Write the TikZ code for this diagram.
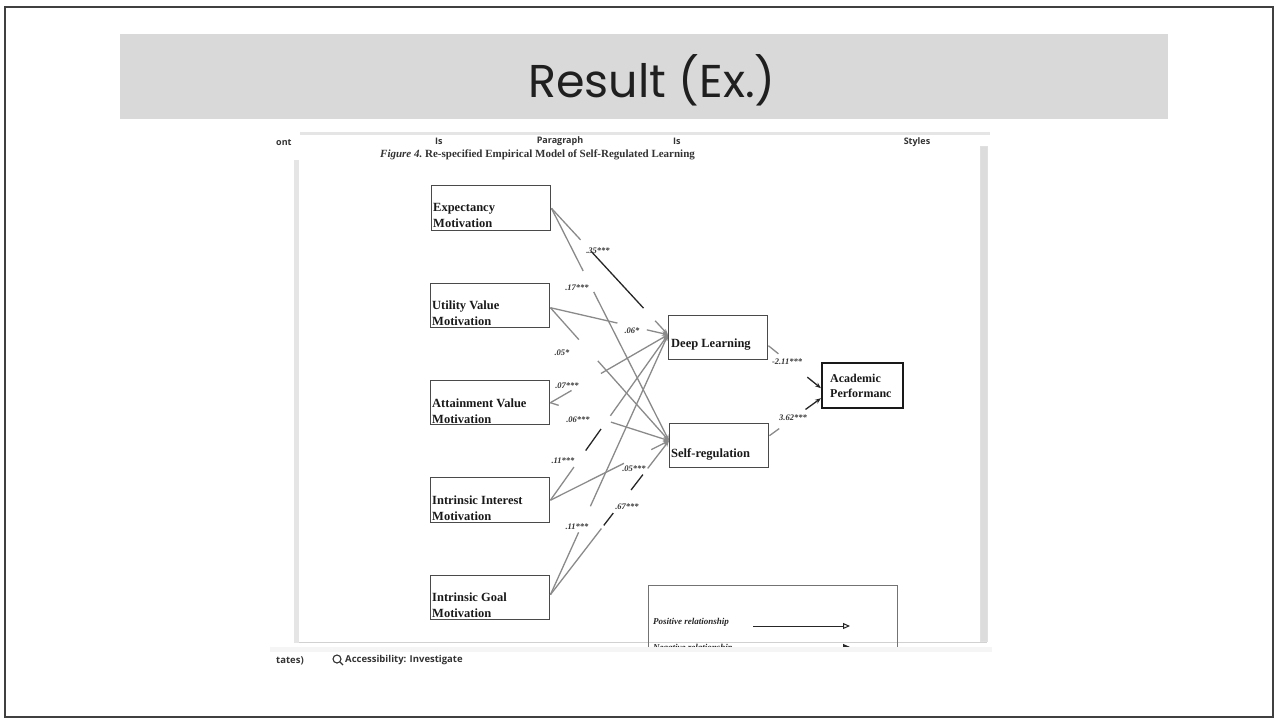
\documentclass[tikz,border=0pt]{standalone}
\usepackage{fontspec}
\setmainfont{Liberation Serif}
\newfontfamily\titlefont{Poppins}
\newfontfamily\uifont{Open Sans}
\usetikzlibrary{calc,arrows.meta}
\definecolor{linec}{HTML}{8A8A8A}
\definecolor{boxc}{HTML}{4A4A4A}
\definecolor{banner}{HTML}{D9D9D9}
\definecolor{barc}{HTML}{DCDCDC}
\newcommand\pathseg[5]{\draw[#5] ($(#1)!#3!(#2)$) -- ($(#1)!#4!(#2)$);}
\begin{document}
\begin{tikzpicture}[x=1pt,y=-1pt,
  vbox/.style={draw=boxc, line width=1.4pt, inner sep=0pt, anchor=north west},
  btxt/.style={font=\fontsize{12.5}{16}\selectfont\bfseries, align=left, inner sep=0pt, anchor=north west, text=black!90},
  lab/.style={font=\fontsize{8.5}{9}\selectfont\bfseries\itshape, inner sep=0.5pt, text=black!80},
  gl/.style={draw=linec, line width=1.3pt},
  bl/.style={draw=black!85, line width=1.3pt},
  tip/.style={-{Stealth[length=6pt,width=4.5pt]}},
  ui/.style={font=\uifont\bfseries\fontsize{9}{10}\selectfont, text=black!80, inner sep=0pt}
]
\useasboundingbox (0,0) rectangle (1276,721);
% slide
\draw[black!75, line width=2pt] (5,7) rectangle (1273,717);
\fill[banner] (120,34) rectangle (1168,119);
\node[font=\titlefont\fontsize{46}{50}\selectfont, text=black!88] (title) at (652,80) {Result (Ex.)};

% word window chrome
\draw[black!10, line width=3pt] (300,133) -- (990,133);
\node[ui, anchor=west] (r1) at (276,143) {ont};
\node[ui, anchor=west] (r2) at (435,141) {Is};
\node[ui] (r3) at (560,141) {Paragraph};
\node[ui, anchor=west] (r4) at (673,141) {Is};
\node[ui] (r5) at (917,142) {Styles};
\fill[barc] (980,146) rectangle (987,641);
\draw[black!12] (980,146) rectangle (987,641);
\fill[black!10] (294,160) rectangle (299,643);
\draw[black!18, line width=1pt] (299,642) -- (987,642);
\fill[black!4] (270,647) rectangle (992,652);

% caption (top clipped)
\begin{scope}
\clip (300,149) rectangle (980,160);
\node[font=\fontsize{11}{12}\selectfont\bfseries, text=black!80, anchor=base west, inner sep=0pt] (cap) at (380,157) {\itshape Figure 4.\upshape\ Re-specified Empirical Model of Self-Regulated Learning};
\end{scope}

% boxes
\node[vbox, minimum width=119pt, minimum height=45pt] (E) at (431,185) {};
\node[vbox, minimum width=119pt, minimum height=44pt] (U) at (430,283) {};
\node[vbox, minimum width=119pt, minimum height=44pt] (A) at (430,380) {};
\node[vbox, minimum width=119pt, minimum height=45pt] (I) at (430,477) {};
\node[vbox, minimum width=119pt, minimum height=44pt] (G) at (430,575) {};
\node[vbox, minimum width=99pt, minimum height=44pt] (D) at (668,315) {};
\node[vbox, minimum width=99pt, minimum height=44pt] (S) at (669,423) {};
\node[vbox, draw=black!90, line width=2.4pt, minimum width=81pt, minimum height=45pt] (AP) at (821,362) {};

\node[btxt] (Et) at ($(E.south west)+(2,-28)$) {Expectancy\\Motivation};
\node[btxt] (Ut) at ($(U.south west)+(2,-28)$) {Utility Value\\Motivation};
\node[btxt] (At) at ($(A.south west)+(2,-27)$) {Attainment Value\\Motivation};
\node[btxt] (It) at ($(I.south west)+(2,-28)$) {Intrinsic Interest\\Motivation};
\node[btxt] (Gt) at ($(G.south west)+(2,-28)$) {Intrinsic Goal\\Motivation};
\node[btxt, anchor=base west] (Dt) at ($(D.south west)+(3,-13)$) {Deep Learning};
\node[btxt, anchor=base west] (St) at ($(S.south west)+(2,-11)$) {Self-regulation};
\node[btxt, font=\fontsize{12}{15}\selectfont\bfseries] (APt) at ($(AP.south west)+(9,-35)$) {Academic\\Performanc};

% endpoints
\coordinate (Din) at ($(D.west)+(0,-3)$);
\coordinate (Sin) at ($(S.west)+(0,-5)$);
\coordinate (Eo) at (E.east);
\coordinate (Uo) at ($(U.east)+(0,2)$);
\coordinate (Ao) at (A.east);
\coordinate (Io) at (I.east);
\coordinate (Go) at ($(G.east)+(0,-3)$);

% E -> D (.35***)
\pathseg{Eo}{Din}{0}{0.25}{gl}
\pathseg{Eo}{Din}{0.34}{0.79}{bl}
\pathseg{Eo}{Din}{0.89}{1}{gl,tip}
% E -> S (.17***)
\pathseg{Eo}{Sin}{0}{0.27}{gl}
\pathseg{Eo}{Sin}{0.36}{1}{gl,tip}
% U -> D (.06*)
\pathseg{Uo}{Din}{0}{0.57}{gl}
\pathseg{Uo}{Din}{0.82}{1}{gl,tip}
% U -> S (.05*)
\pathseg{Uo}{Sin}{0}{0.24}{gl}
\pathseg{Uo}{Sin}{0.40}{1}{gl,tip}
% A -> D (.07***)
\pathseg{Ao}{Din}{0}{0.18}{gl}
\pathseg{Ao}{Din}{0.43}{1}{gl,tip}
% A -> S (.06***)
\pathseg{Ao}{Sin}{0}{0.07}{gl}
\pathseg{Ao}{Sin}{0.51}{1}{gl,tip}
% I -> D (.11***)
\pathseg{Io}{Din}{0}{0.2}{gl}
\pathseg{Io}{Din}{0.3}{0.43}{bl}
\pathseg{Io}{Din}{0.51}{1}{gl,tip}
% I -> S (.05***)
\pathseg{Io}{Sin}{0}{0.62}{gl}
\pathseg{Io}{Sin}{0.85}{1}{gl,tip}
% G -> D (.11***)
\pathseg{Go}{Din}{0}{0.24}{gl}
\pathseg{Go}{Din}{0.34}{1}{gl,tip}
% G -> S (.67***)
\pathseg{Go}{Sin}{0}{0.43}{gl}
\pathseg{Go}{Sin}{0.45}{0.53}{bl}
\pathseg{Go}{Sin}{0.68}{0.78}{bl}
\pathseg{Go}{Sin}{0.82}{1}{gl,tip}

% right side
\coordinate (Do) at ($(D.east)+(0,8)$);
\coordinate (So) at ($(S.east)+(0,-10)$);
\coordinate (APa) at ($(AP.west)+(0,2.5)$);
\coordinate (APb) at ($(AP.west)+(0,12.5)$);
\pathseg{Do}{APa}{0}{0.19}{gl}
\pathseg{Do}{APa}{0.74}{1}{bl,tip}
\pathseg{So}{APb}{0}{0.19}{gl}
\pathseg{So}{APb}{0.7}{1}{bl,tip}

% labels
\node[lab] (l1) at (598,251) {.35***};
\node[lab] (l2) at (577,288) {.17***};
\node[lab] (l3) at (632,331) {.06*};
\node[lab] (l4) at (562,353) {.05*};
\node[lab] (l5) at (567,386) {.07***};
\node[lab] (l6) at (578,420) {.06***};
\node[lab] (l7) at (563,461) {.11***};
\node[lab] (l8) at (634,469) {.05***};
\node[lab] (l9) at (577,527) {.11***};
\node[lab] (l10) at (627,507) {.67***};
\node[lab] (l11) at (787,362) {-2.11***};
\node[lab] (l12) at (793,418) {3.62***};

% legend (bottom clipped by status bar)
\begin{scope}
\clip (640,580) rectangle (905,646);
\node[draw=black!55, line width=1.2pt, minimum width=249pt, minimum height=80pt, anchor=north west, inner sep=0pt] (leg) at (648,585) {};
\node[font=\fontsize{9}{10}\selectfont\bfseries\itshape, anchor=west, inner sep=0pt, text=black!85] (pos) at (653,622) {Positive relationship};
\coordinate (pa) at (753,626);
\coordinate (pb) at (850,626);
\draw[black!85, line width=1pt, -{Triangle[open,length=7pt,width=6pt]}] (pa) -- (pb);
\node[font=\fontsize{9}{10}\selectfont\bfseries\itshape, anchor=west, inner sep=0pt, text=black!85] (neg) at (653,648) {Negative relationship};
\coordinate (na) at (830,647);
\coordinate (nb) at (850,647);
\draw[black!85, line width=1pt, -{Triangle[length=7pt,width=6pt]}] (na) -- (nb);
\end{scope}

% status bar
\node[ui, font=\uifont\bfseries\fontsize{9.5}{10}\selectfont, anchor=west] (st1) at (276,661) {tates)};
\coordinate (ic) at (337,659);
\draw[black!80, line width=1.1pt] (ic) circle (4pt);
\draw[black!80, line width=1.3pt] ($(ic)+(3,3)$) -- ($(ic)+(6,6)$);
\node[ui, font=\uifont\bfseries\fontsize{9.5}{10}\selectfont, anchor=west] (st2) at (345,660) {Accessibility: Investigate};
\end{tikzpicture}
\end{document}
